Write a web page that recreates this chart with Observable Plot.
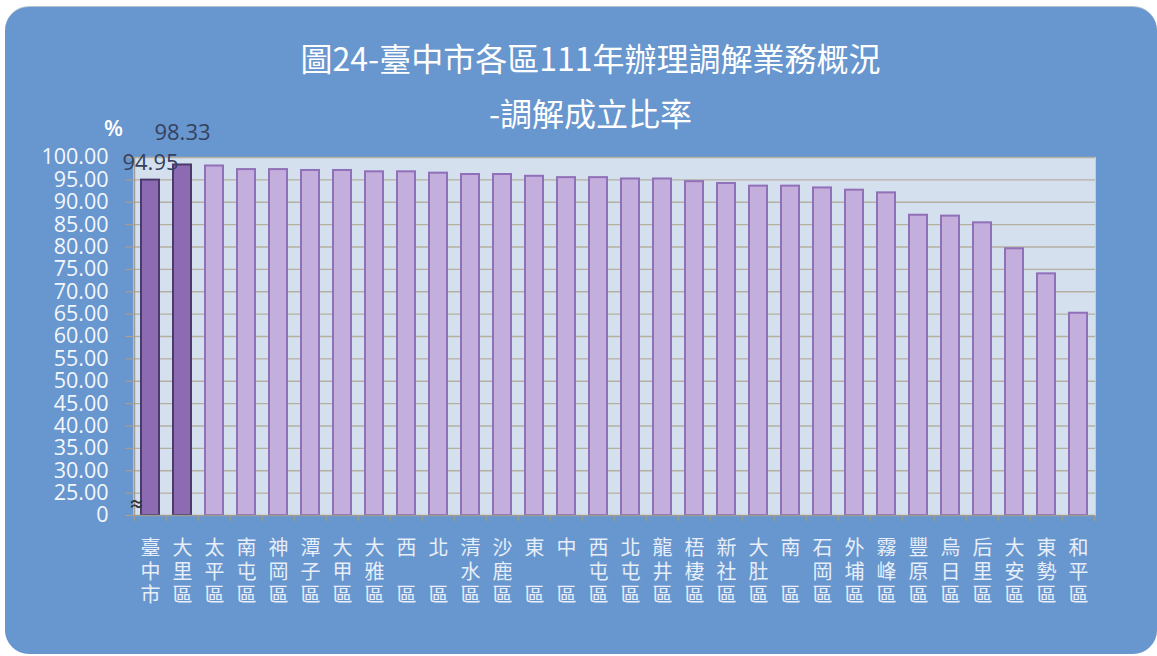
<!DOCTYPE html>
<html><head><meta charset="utf-8">
<script src="https://cdn.jsdelivr.net/npm/d3@7"></script>
<script src="https://cdn.jsdelivr.net/npm/@observablehq/plot@0.6"></script>
<style>
body{margin:0;background:#fff;width:1157px;height:656px;overflow:hidden;position:relative;font-family:"Noto Sans CJK TC",sans-serif}
#panel{position:absolute;left:5px;top:7px;width:1152px;height:647px;background:#6896CE;border-radius:24px;box-shadow:0 -1px 0 #b9c3cf}
.t{position:absolute;left:12px;width:1157px;text-align:center;color:#fff;font-weight:400;font-size:32px;line-height:40px}
#title{top:37px}
#sub{top:92px}
#pct{position:absolute;left:104px;top:112px;color:#fff;font-size:22px;font-family:"Open Sans",sans-serif;font-weight:600}
#chart{position:absolute;left:0;top:0}
</style></head><body>
<div id="panel"></div>
<div id="chart"></div>
<div class="t" id="title">圖24-臺中市各區111年辦理調解業務概況</div>
<div class="t" id="sub">-調解成立比率</div>
<div id="pct">%</div>
<script>
const categories = ["臺中市","大里區","太平區","南屯區","神岡區","潭子區","大甲區","大雅區","西區","北區","清水區","沙鹿區","東區","中區","西屯區","北屯區","龍井區","梧棲區","新社區","大肚區","南區","石岡區","外埔區","霧峰區","豐原區","烏日區","后里區","大安區","東勢區","和平區"];
const rates = [94.95,98.33,98.1,97.3,97.3,97.1,97.1,96.8,96.8,96.5,96.2,96.2,95.8,95.5,95.5,95.2,95.2,94.6,94.2,93.6,93.6,93.2,92.7,92.1,87.1,86.9,85.4,79.6,74.0,65.2];
const highlighted = ["臺中市","大里區"];
const labelledLow = ["臺中市"];
const labelledHigh = ["大里區"];
const yTicks = [20,25,30,35,40,45,50,55,60,65,70,75,80,85,90,95,100];
const yBreak = [22.3];

const W = 1157, H = 656, mL = 133, mR = 62, mT = 157, mB = 141;
const step = (W - mL - mR) / categories.length;
const data = categories.map((c, i) => ({name: c, rate: rates[i], hi: highlighted.includes(c)}));
const fmtLabel = d => {
  const ch = d.split("");
  if (ch.length === 2) ch.splice(1, 0, " ");
  return ch.join("\n");
};
const numFont = "'Open Sans', 'Noto Sans CJK TC', sans-serif";

const chart = Plot.plot({
  width: W, height: H,
  marginLeft: mL, marginRight: mR, marginTop: mT, marginBottom: mB,
  style: {background: "transparent", fontFamily: "'Noto Sans CJK TC', sans-serif", overflow: "visible"},
  x: {type: "band", domain: categories, paddingInner: 0.44, paddingOuter: 0.22, axis: null, label: null},
  y: {domain: [20, 100], axis: null, label: null},
  color: {type: "identity"},
  marks: [
    Plot.frame({fill: "#D5E0EE", stroke: "#C4CCD8"}),
    Plot.ruleY(yTicks.filter(t => t > 20), {stroke: "#B5AFA2", strokeWidth: 1.4}),
    Plot.barY(data, {
      x: "name", y1: 20, y2: "rate",
      fill: d => d.hi ? "#8D6BB3" : "#C4AEDC",
      stroke: d => d.hi ? "#4B3A6A" : "#8F70B9",
      strokeWidth: 2
    }),
    Plot.ruleY([20], {stroke: "#9E9B94", strokeWidth: 1.5}),
    Plot.axisY(yTicks, {
      tickSize: 8, tickPadding: 17, stroke: "#B59C80", fill: "#F4F7FC",
      fontSize: 21.5, fontFamily: numFont, line: false, label: null,
      tickFormat: d => d === 20 ? "0" : d.toFixed(2)
    }),
    Plot.ruleX([0], {x: () => categories[0], dx: -step / 2, stroke: "#9E9B94", strokeWidth: 1.5}),
    Plot.axisX(categories, {tickSize: 6, tickFormat: () => "", label: null, dx: -step / 2, stroke: "#9E9B94", strokeWidth: 1.5}),
    Plot.axisX([categories[categories.length - 1]], {tickSize: 6, tickFormat: () => "", label: null, dx: step / 2, stroke: "#9E9B94", strokeWidth: 1.5}),
    Plot.text(categories, {
      x: d => d, frameAnchor: "bottom", lineAnchor: "top", dy: 23,
      text: fmtLabel, fill: "#E6EEF9", fontSize: 20, lineHeight: 1.17
    }),
    Plot.text(data.filter(d => labelledLow.includes(d.name)), {
      x: "name", y: "rate", text: d => d.rate.toFixed(2), dy: -17,
      fontSize: 22, fill: "#36415E", fontFamily: numFont
    }),
    Plot.text(data.filter(d => labelledHigh.includes(d.name)), {
      x: "name", y: "rate", text: d => d.rate.toFixed(2), dy: -32,
      fontSize: 22, fill: "#36415E", fontFamily: numFont
    }),
    Plot.text(yBreak, {y: d => d, frameAnchor: "left", dx: -5, text: () => "≈", fontSize: 16, fill: "#333", fontWeight: "bold"})
  ]
});
document.getElementById("chart").appendChild(chart);
</script>
</body></html>
